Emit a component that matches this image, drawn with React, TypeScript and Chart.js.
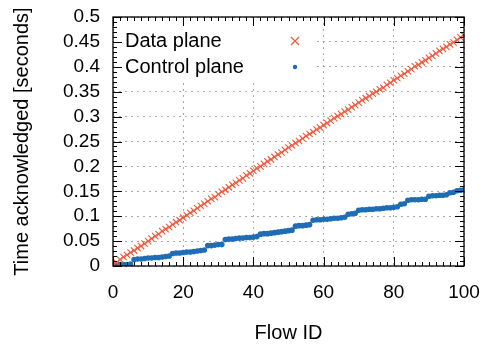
import React, { useEffect, useRef } from "react";
import { Chart, registerables } from "chart.js";

Chart.register(...registerables);

const FONT = '"Liberation Sans", Arial, Helvetica, sans-serif';

// Flow identifiers on the x axis
const flowIds: number[] = Array.from({ length: 101 }, (_, i) => i);

// Time (s) at which each flow was acknowledged, data plane
const dataPlane: number[] = [
  0.003, 0.007, 0.013, 0.018, 0.022, 0.027, 0.031, 0.036, 0.040, 0.045,
  0.050, 0.055, 0.060, 0.064, 0.070, 0.074, 0.078, 0.083, 0.088, 0.092,
  0.097, 0.102, 0.107, 0.111, 0.116, 0.121, 0.125, 0.130, 0.135, 0.138,
  0.144, 0.149, 0.153, 0.158, 0.163, 0.167, 0.172, 0.176, 0.182, 0.186,
  0.191, 0.196, 0.200, 0.205, 0.210, 0.214, 0.219, 0.224, 0.228, 0.233,
  0.238, 0.242, 0.247, 0.251, 0.256, 0.261, 0.265, 0.269, 0.274, 0.278,
  0.283, 0.287, 0.292, 0.297, 0.301, 0.305, 0.310, 0.314, 0.319, 0.323,
  0.328, 0.333, 0.337, 0.341, 0.346, 0.350, 0.355, 0.358, 0.364, 0.368,
  0.373, 0.377, 0.382, 0.386, 0.391, 0.395, 0.401, 0.404, 0.409, 0.413,
  0.418, 0.422, 0.427, 0.432, 0.436, 0.440, 0.445, 0.449, 0.454, 0.459,
  0.463,
];

// Time (s) at which each flow was acknowledged, control plane
const controlPlane: number[] = [
  0.002, 0.002, 0.003, 0.003, 0.003, 0.004,
  0.013, 0.014, 0.014, 0.015, 0.016, 0.016, 0.017, 0.017, 0.018, 0.019, 0.020,
  0.025, 0.026, 0.026, 0.027, 0.028, 0.028, 0.029, 0.030, 0.031, 0.032,
  0.041, 0.041, 0.042, 0.043, 0.043,
  0.053, 0.054, 0.054, 0.055, 0.056, 0.056, 0.057, 0.057, 0.058, 0.059,
  0.064, 0.065, 0.065, 0.066, 0.067, 0.068, 0.069, 0.070, 0.071, 0.072,
  0.080, 0.081, 0.081, 0.082, 0.083,
  0.092, 0.093, 0.093, 0.094, 0.094, 0.095, 0.096, 0.096, 0.097, 0.098,
  0.104, 0.105, 0.106,
  0.112, 0.113, 0.113, 0.114, 0.114, 0.115, 0.115, 0.116, 0.117, 0.117, 0.118, 0.119,
  0.124, 0.125,
  0.132, 0.133, 0.133, 0.133, 0.134, 0.134,
  0.140, 0.141, 0.141, 0.142, 0.142, 0.143,
  0.147, 0.148, 0.151, 0.152, 0.153,
];

const seriesLabels: string[] = ["Data plane", "Control plane"];
const seriesColors: string[] = ["#f0583c", "#1f6db4"];

const xTicks: number[] = [0, 20, 40, 60, 80, 100];
const yTicks: number[] = [0, 0.05, 0.1, 0.15, 0.2, 0.25, 0.3, 0.35, 0.4, 0.45, 0.5];

const xTitle = "Flow ID";
const yTitle = "Time acknowledged [seconds]";

const fmt = (v: number) => String(Number(v.toFixed(2)));

function drawCross(ctx: CanvasRenderingContext2D, x: number, y: number, r: number) {
  ctx.beginPath();
  ctx.moveTo(x - r, y - r);
  ctx.lineTo(x + r, y + r);
  ctx.moveTo(x - r, y + r);
  ctx.lineTo(x + r, y - r);
  ctx.stroke();
}

// Key box, inward tick marks (major + minor) on all four sides and the frame
const framePlugin = {
  id: "gnuFrame",
  afterDatasetsDraw(chart: any) {
    const { ctx, chartArea: a, scales } = chart;
    const xs = scales.x;
    const ys = scales.y;
    ctx.save();

    // key
    ctx.fillStyle = "#ffffff";
    ctx.fillRect(a.left + 1, a.top + 1, 203, 62);
    ctx.font = `20px ${FONT}`;
    ctx.textBaseline = "middle";
    ctx.textAlign = "left";
    const rows = [a.top + 24, a.top + 50];
    const symX = a.left + 182;
    chart.data.datasets.forEach((ds: any, i: number) => {
      ctx.fillStyle = "#000";
      ctx.fillText(ds.label, a.left + 12, rows[i]);
      if (ds.pointStyle === "crossRot") {
        ctx.strokeStyle = ds.borderColor;
        ctx.lineWidth = 1.2;
        drawCross(ctx, symX, rows[i], 4);
      } else {
        ctx.fillStyle = ds.backgroundColor;
        ctx.beginPath();
        ctx.arc(symX, rows[i], 2.2, 0, Math.PI * 2);
        ctx.fill();
      }
    });

    // ticks
    ctx.strokeStyle = "#000";
    ctx.lineWidth = 1;
    ctx.beginPath();
    for (let v = 0; v <= 100; v += 2) {
      const p = Math.round(xs.getPixelForValue(v)) + 0.5;
      const len = v % 20 === 0 ? 9 : 4;
      ctx.moveTo(p, a.bottom);
      ctx.lineTo(p, a.bottom - len);
      ctx.moveTo(p, a.top);
      ctx.lineTo(p, a.top + len);
    }
    for (let k = 0; k <= 50; k++) {
      const p = Math.round(ys.getPixelForValue(k / 100)) + 0.5;
      const len = k % 5 === 0 ? 9 : 4;
      ctx.moveTo(a.left, p);
      ctx.lineTo(a.left + len, p);
      ctx.moveTo(a.right, p);
      ctx.lineTo(a.right - len, p);
    }
    ctx.stroke();

    ctx.lineWidth = 1.3;
    ctx.strokeRect(a.left, a.top, a.right - a.left, a.bottom - a.top);
    ctx.restore();
  },
};

export default function App() {
  const canvasRef = useRef<HTMLCanvasElement | null>(null);

  useEffect(() => {
    if (!canvasRef.current) return;
    Chart.defaults.font.family = FONT;
    const chart = new Chart(canvasRef.current, {
      type: "scatter",
      data: {
        datasets: [
          {
            label: seriesLabels[0],
            data: flowIds.map((f, i) => ({ x: f, y: dataPlane[i] })),
            pointStyle: "crossRot",
            pointRadius: 4.5,
            borderColor: seriesColors[0],
            backgroundColor: seriesColors[0],
            borderWidth: 1.1,
            showLine: false,
          },
          {
            label: seriesLabels[1],
            data: flowIds.map((f, i) => ({ x: f, y: controlPlane[i] })),
            pointStyle: "circle",
            pointRadius: 2.8,
            borderWidth: 0,
            borderColor: seriesColors[1],
            backgroundColor: seriesColors[1],
            showLine: false,
          },
        ],
      },
      plugins: [framePlugin],
      options: {
        animation: false,
        responsive: false,
        events: [],
        layout: { padding: { top: 17, right: 23, left: 0, bottom: 0 } },
        plugins: { legend: { display: false }, tooltip: { enabled: false } },
        scales: {
          x: {
            type: "linear",
            min: 0,
            max: 100,
            afterBuildTicks: (s: any) => {
              s.ticks = xTicks.map((v) => ({ value: v }));
            },
            afterFit: (s: any) => {
              s.height = 79;
              s.paddingLeft = 0;
              s.paddingRight = 0;
            },
            ticks: {
              color: "#000",
              font: { size: 19, family: FONT },
              padding: 15,
              maxRotation: 0,
              autoSkip: false,
              callback: (v: any) => fmt(Number(v)),
            },
            grid: {
              drawTicks: false,
              color: "rgba(140,140,140,0.75)",
              lineWidth: 1,
            },
            border: { display: false, dash: [2, 4] },
            title: {
              display: true,
              text: xTitle,
              color: "#000",
              font: { size: 20, family: FONT },
              padding: { top: 0, bottom: 0 },
            },
          },
          y: {
            type: "linear",
            min: 0,
            max: 0.5,
            afterBuildTicks: (s: any) => {
              s.ticks = yTicks.map((v) => ({ value: v }));
            },
            afterFit: (s: any) => {
              s.width = 113;
              s.paddingTop = 0;
              s.paddingBottom = 0;
            },
            ticks: {
              color: "#000",
              font: { size: 19, family: FONT },
              padding: 13,
              autoSkip: false,
              callback: (v: any) => fmt(Number(v)),
            },
            grid: {
              drawTicks: false,
              color: "rgba(140,140,140,0.75)",
              lineWidth: 1,
            },
            border: { display: false, dash: [2, 4] },
            title: {
              display: true,
              text: yTitle,
              color: "#000",
              font: { size: 20, family: FONT },
              padding: { top: 10, bottom: 0 },
            },
          },
        },
      },
    });
    return () => chart.destroy();
  }, []);

  return (
    <div style={{ position: "fixed", left: 0, top: 0, width: 487, height: 345, background: "#fff" }}>
      <canvas ref={canvasRef} width={487} height={345} style={{ display: "block" }} />
    </div>
  );
}
